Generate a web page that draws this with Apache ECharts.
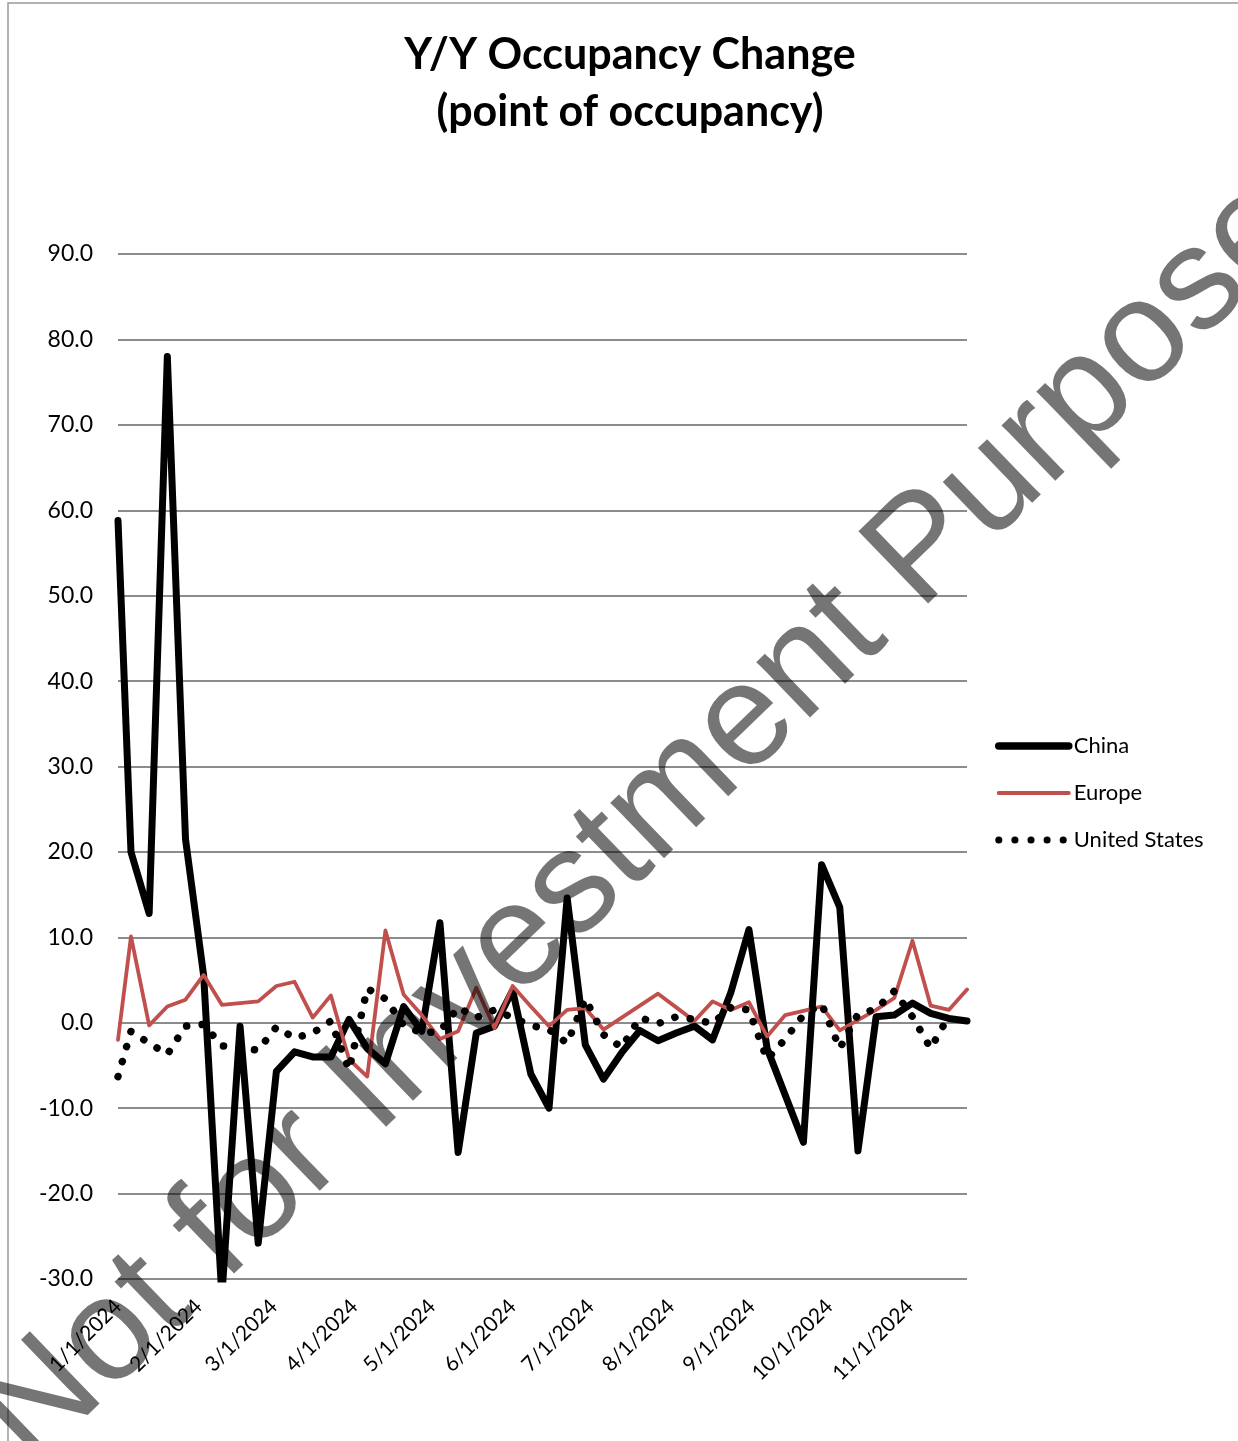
<!DOCTYPE html>
<html>
<head>
<meta charset="utf-8">
<script src="https://cdn.jsdelivr.net/npm/echarts@6/dist/echarts.min.js"></script>
<style>
html,body{margin:0;padding:0;background:#fff;}
#chart{width:1238px;height:1441px;}
</style>
</head>
<body>
<div id="chart"></div>
<script>
const dates = ['2024-01-01','2024-01-06','2024-01-13','2024-01-20','2024-01-27','2024-02-03','2024-02-10','2024-02-17','2024-02-24','2024-03-02','2024-03-09','2024-03-16','2024-03-23','2024-03-30','2024-04-06','2024-04-13','2024-04-20','2024-04-27','2024-05-04','2024-05-11','2024-05-18','2024-05-25','2024-06-01','2024-06-08','2024-06-15','2024-06-22','2024-06-29','2024-07-06','2024-07-13','2024-07-20','2024-07-27','2024-08-03','2024-08-10','2024-08-17','2024-08-24','2024-08-31','2024-09-07','2024-09-14','2024-09-21','2024-09-28','2024-10-05','2024-10-12','2024-10-19','2024-10-26','2024-11-02','2024-11-09','2024-11-16','2024-11-23'];

const china = [58.8,20.0,12.8,78.0,21.5,5.5,-32.0,-0.4,-25.8,-5.7,-3.4,-4.0,-4.0,0.4,-3.0,-4.8,1.9,-1.0,11.7,-15.2,-1.2,-0.4,3.8,-6.0,-10.0,14.6,-2.6,-6.6,-3.5,-0.9,-2.1,-1.2,-0.4,-2.0,3.5,10.9,-3.0,-8.5,-14.0,18.5,13.5,-15.0,0.7,0.9,2.3,1.1,0.5,0.2];

const europe = [-2.0,10.1,-0.3,1.9,2.7,5.6,2.1,2.3,2.5,4.3,4.8,0.6,3.2,-4.3,-6.3,10.8,3.3,0.9,-1.9,-1.0,4.1,-0.6,4.3,1.9,-0.4,1.5,1.7,-0.8,0.6,2.0,3.4,1.8,0.2,2.5,1.5,2.4,-1.6,0.9,1.4,1.9,-0.9,0.3,1.5,2.9,9.6,2.0,1.5,3.9];

const unitedStates = [-6.3,-1.0,-2.4,-3.7,-0.4,-0.2,-2.7,-3.0,-3.2,-0.5,-1.8,-1.2,0.2,-5.5,4.0,2.8,-0.3,-1.2,-1.0,1.8,0.6,1.5,0.6,-0.3,-0.8,-2.4,2.8,-1.4,-2.9,0.6,-0.1,0.7,0.4,-0.1,1.8,1.5,-4.3,-1.9,0.9,2.2,-3.0,1.0,1.6,3.7,0.7,-3.0,0.8,null];

const monthTicks = ['2024-01-01','2024-02-01','2024-03-01','2024-04-01','2024-05-01','2024-06-01','2024-07-01','2024-08-01','2024-09-01','2024-10-01','2024-11-01'];
const tickLabels = ['1/1/2024','2/1/2024','3/1/2024','4/1/2024','5/1/2024','6/1/2024','7/1/2024','8/1/2024','9/1/2024','10/1/2024','11/1/2024'];

const yMin = -30, yMax = 90, yStep = 10;

function dayIndex(s){
  const p = s.split('-').map(Number);
  return Math.round((Date.UTC(p[0],p[1]-1,p[2]) - Date.UTC(2024,0,1)) / 86400000);
}
const xs = dates.map(dayIndex);
const tickDays = monthTicks.map(dayIndex);
const labelMap = {};
tickDays.forEach((d,i)=>{ labelMap[d] = tickLabels[i]; });
function pairs(arr){ return xs.map((x,i)=>[x, arr[i]]); }

const FONT = 'Lato, "Open Sans", sans-serif';
const RED = '#c0504d';
const DOTS = [0.1, 15.5];
const chart = echarts.init(document.getElementById('chart'), null, {renderer:'canvas'});
chart.setOption({
  animation:false,
  backgroundColor:'#ffffff',
  title:{
    text:'Y/Y Occupancy Change\n(point of occupancy)',
    left:625, top:22, textAlign:'center',
    textStyle:{fontFamily:FONT, fontSize:43, fontWeight:'bold', color:'#000', lineHeight:57}
  },
  grid:{left:118, right:271, top:254, bottom:162, containLabel:false},
  legend:{
    orient:'vertical', left:990, top:730,
    itemWidth:70, itemHeight:14, itemGap:25,
    itemStyle:{opacity:0},
    textStyle:{fontFamily:FONT, fontSize:22, color:'#000'},
    data:[
      {name:'China', lineStyle:{width:7.5, cap:'round', color:'#000'}},
      {name:'Europe', lineStyle:{width:4, cap:'round', color:RED}},
      {name:'United States', lineStyle:{width:7, cap:'round', type:[0.1,16], color:'#000'}}
    ]
  },
  xAxis:{
    type:'value', min:0, max:xs[xs.length-1],
    axisLine:{show:false}, axisTick:{show:false}, splitLine:{show:false},
    axisLabel:{
      customValues:tickDays, rotate:45, margin:24,
      fontFamily:FONT, fontSize:21, color:'#000',
      formatter:v=>labelMap[v] || ''
    }
  },
  yAxis:{
    type:'value', min:yMin, max:yMax, interval:yStep,
    axisLine:{show:false}, axisTick:{show:false},
    splitLine:{lineStyle:{color:'#8c8c8c', width:2}},
    axisLabel:{margin:25, fontFamily:FONT, fontSize:23, color:'#000', formatter:v=>v.toFixed(1)}
  },
  series:[
    {name:'China', type:'line', data:pairs(china), symbol:'none', clip:true,
     lineStyle:{color:'#000', width:7, join:'round', cap:'round'}, itemStyle:{color:'#000'}},
    {name:'Europe', type:'line', data:pairs(europe), symbol:'none', clip:true,
     lineStyle:{color:RED, width:3.8, join:'round', cap:'round'}, itemStyle:{color:RED}},
    {name:'United States', type:'line', data:pairs(unitedStates), symbol:'none', clip:true,
     lineStyle:{color:'#000', width:7.5, type:DOTS, cap:'round'}, itemStyle:{color:'#000'}}
  ],
  graphic:[
    {type:'rect', z:-1, silent:true, shape:{x:8, y:3, width:1240, height:1450},
     style:{fill:'none', stroke:'#9a9a9a', lineWidth:1.5}},
    {type:'text', z:100, silent:true, x:55, y:1492, rotation:44*Math.PI/180,
     style:{text:'Not for Investment Purposes', fontFamily:'"Liberation Sans", Arial, sans-serif',
            fontSize:146, fill:'rgba(0,0,0,0.54)', textAlign:'left', textVerticalAlign:'bottom'}}
  ]
});
</script>
</body>
</html>
